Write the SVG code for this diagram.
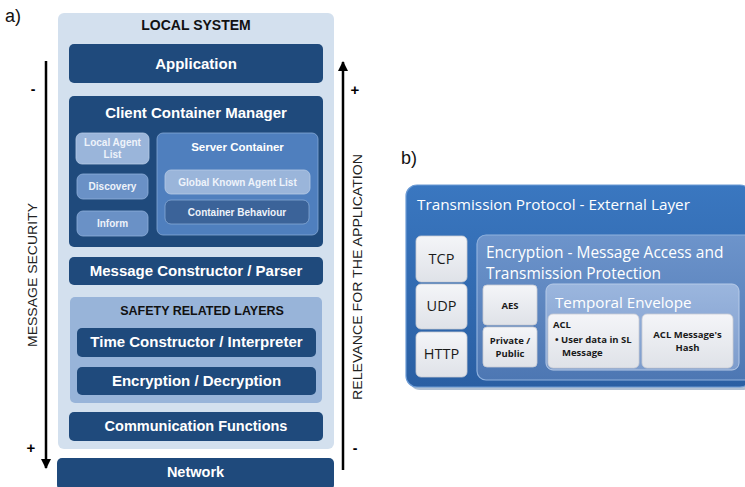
<svg xmlns="http://www.w3.org/2000/svg" width="745" height="487" viewBox="0 0 745 487">
<defs>
<style>
.dk{fill:#1f4a7c}
.wt{font-family:"Liberation Sans",Arial,sans-serif;font-weight:bold;fill:#ffffff;text-anchor:middle}
.lt{font-family:"Liberation Sans",Arial,sans-serif;font-weight:bold;fill:#eef3fa;text-anchor:middle;font-size:10px}
.lbl{font-family:"Liberation Sans",Arial,sans-serif;fill:#111}
.cb{font-family:"Open Sans","Liberation Sans",sans-serif;fill:#ffffff}
.cd{font-family:"Open Sans","Liberation Sans",sans-serif;fill:#1a1a1a}
.wbox{fill:url(#wg);stroke:#c9ccd3;stroke-width:0.8}
</style>
<linearGradient id="og" x1="0" y1="0" x2="0" y2="1"><stop offset="0" stop-color="#3a77c0"/><stop offset="1" stop-color="#2a5fa3"/></linearGradient>
<linearGradient id="eg" x1="0" y1="0" x2="0" y2="1"><stop offset="0" stop-color="#6d94cb"/><stop offset="1" stop-color="#4d77b3"/></linearGradient>
<linearGradient id="tg" x1="0" y1="0" x2="0" y2="1"><stop offset="0" stop-color="#9bb6de"/><stop offset="1" stop-color="#7d9ccc"/></linearGradient>
<linearGradient id="wg" x1="0" y1="0" x2="0" y2="1"><stop offset="0" stop-color="#f4f5f8"/><stop offset="1" stop-color="#dfe2e8"/></linearGradient>
<marker id="ah" viewBox="0 0 10 10" refX="9" refY="5" markerWidth="10" markerHeight="10" markerUnits="userSpaceOnUse" orient="auto"><path d="M0,0 L10,5 L0,10 Z" fill="#000"/></marker>
</defs>
<rect width="745" height="487" fill="#ffffff"/>

<text class="lbl" x="5" y="22" font-size="18">a)</text>
<text class="lbl" x="401" y="164" font-size="18">b)</text>

<!-- panel a -->
<g id="local-system">
<rect x="58" y="13" width="276" height="436" rx="6" fill="#d3e0ee"/>
<text x="196" y="30" font-family="'Liberation Sans',Arial,sans-serif" font-weight="bold" font-size="14" fill="#111" text-anchor="middle">LOCAL SYSTEM</text>
</g>
<g id="application">
<rect class="dk" x="69" y="44" width="254" height="39" rx="5"/>
<text class="wt" x="196" y="69" font-size="15">Application</text>
</g>
<g id="client-container-manager">
<rect class="dk" x="69" y="96" width="254" height="151" rx="5"/>
<text class="wt" x="196" y="118" font-size="15">Client Container Manager</text>
</g>
<g id="local-agent-list">
<rect x="76" y="133" width="73" height="31" rx="6" fill="#9ab5da" stroke="#b8cce6" stroke-width="0.8"/>
<text class="lt" x="112.5" y="146">Local Agent</text>
<text class="lt" x="112.5" y="158">List</text>
</g>
<g id="discovery">
<rect x="77" y="174" width="71" height="25" rx="6" fill="#6a91c6" stroke="#8fb0da" stroke-width="0.8"/>
<text class="lt" x="112.5" y="190">Discovery</text>
</g>
<g id="inform">
<rect x="77" y="211" width="71" height="25" rx="6" fill="#6a91c6" stroke="#8fb0da" stroke-width="0.8"/>
<text class="lt" x="112.5" y="227">Inform</text>
</g>
<g id="server-container">
<rect x="157" y="133" width="161" height="102" rx="6" fill="#4f7fbe" stroke="#87a9d6" stroke-width="0.8"/>
<text class="wt" x="237.5" y="151" font-size="11.5">Server Container</text>
</g>
<g id="global-known-agent-list">
<rect x="165" y="170" width="145" height="24" rx="6" fill="#9ab5da" stroke="#b8cce6" stroke-width="0.8"/>
<text class="lt" x="237.5" y="186">Global Known Agent List</text>
</g>
<g id="container-behaviour">
<rect x="165" y="200" width="144" height="24" rx="6" fill="#3b6399" stroke="#87a9d6" stroke-width="0.8"/>
<text class="lt" x="237" y="216">Container Behaviour</text>
</g>
<g id="message-constructor">
<rect class="dk" x="69" y="257" width="254" height="28" rx="5"/>
<text class="wt" x="196" y="276" font-size="15">Message Constructor / Parser</text>
</g>
<g id="safety-related-layers">
<rect x="70" y="297" width="252" height="106" rx="5" fill="#98b4d9"/>
<text x="202" y="315" font-family="'Liberation Sans',Arial,sans-serif" font-weight="bold" font-size="12.5" fill="#111" text-anchor="middle">SAFETY RELATED LAYERS</text>
</g>
<g id="time-constructor">
<rect class="dk" x="77" y="328" width="239" height="29" rx="5"/>
<text class="wt" x="196.5" y="347" font-size="15">Time Constructor / Interpreter</text>
</g>
<g id="encryption-decryption">
<rect class="dk" x="77" y="367" width="239" height="28" rx="5"/>
<text class="wt" x="196.5" y="386" font-size="15">Encryption / Decryption</text>
</g>
<g id="communication-functions">
<rect class="dk" x="69" y="412" width="254" height="29" rx="5"/>
<text class="wt" x="196" y="431" font-size="14.5">Communication Functions</text>
</g>
<g id="network">
<rect class="dk" x="57" y="458" width="277" height="32" rx="5"/>
<text class="wt" x="195.5" y="477" font-size="14.5">Network</text>
</g>

<g id="connectors">
<line x1="46" y1="61" x2="46" y2="468" stroke="#000" stroke-width="2.5" marker-end="url(#ah)"/>
<line x1="343" y1="470" x2="343" y2="62" stroke="#000" stroke-width="2.5" marker-end="url(#ah)"/>
</g>
<g id="axis-labels">
<text x="33" y="94" font-family="'Liberation Sans',Arial,sans-serif" font-weight="bold" font-size="14" text-anchor="middle">-</text>
<text x="31" y="453" font-family="'Liberation Sans',Arial,sans-serif" font-weight="bold" font-size="15" text-anchor="middle">+</text>
<text x="355" y="95" font-family="'Liberation Sans',Arial,sans-serif" font-weight="bold" font-size="15" text-anchor="middle">+</text>
<text x="355" y="453" font-family="'Liberation Sans',Arial,sans-serif" font-weight="bold" font-size="14" text-anchor="middle">-</text>
<text transform="translate(37,275) rotate(-90)" font-family="'Liberation Sans',Arial,sans-serif" font-size="12" fill="#222" text-anchor="middle" textLength="144" lengthAdjust="spacingAndGlyphs">MESSAGE SECURITY</text>
<text transform="translate(362,277) rotate(-90)" font-family="'Liberation Sans',Arial,sans-serif" font-size="12" fill="#222" text-anchor="middle" textLength="246" lengthAdjust="spacingAndGlyphs">RELEVANCE FOR THE APPLICATION</text>
</g>

<!-- panel b -->
<g id="transmission-protocol">
<rect x="409" y="188" width="345" height="202" rx="11" fill="#1d4a80" opacity="0.35"/>
<rect x="406" y="185" width="345" height="202" rx="11" fill="url(#og)" stroke="#6b9ad4" stroke-width="1.2"/>
<text class="cb" x="417" y="210" font-size="15.3">Transmission Protocol - External Layer</text>
</g>
<g id="tcp">
<rect class="wbox" x="416" y="236" width="51" height="46" rx="5"/>
<text class="cd" x="441.5" y="264" font-size="14.5" text-anchor="middle">TCP</text>
</g>
<g id="udp">
<rect class="wbox" x="416" y="284" width="51" height="45" rx="5"/>
<text class="cd" x="441.5" y="311" font-size="14.5" text-anchor="middle">UDP</text>
</g>
<g id="http">
<rect class="wbox" x="416" y="332" width="51" height="45" rx="5"/>
<text class="cd" x="441.5" y="359" font-size="14.5" text-anchor="middle">HTTP</text>
</g>
<g id="encryption">
<rect x="477" y="235" width="280" height="145" rx="9" fill="url(#eg)" stroke="#8fb1de" stroke-width="1.2"/>
<text class="cb" x="486" y="258" font-size="15.5">Encryption - Message Access and</text>
<text class="cb" x="486" y="279" font-size="15.5">Transmission Protection</text>
</g>
<g id="aes">
<rect class="wbox" x="483" y="285" width="54" height="40" rx="4"/>
<text class="cd" x="510" y="309" font-size="9.5" font-weight="bold" text-anchor="middle">AES</text>
</g>
<g id="private-public">
<rect class="wbox" x="483" y="327" width="54" height="40" rx="4"/>
<text class="cd" x="510" y="344" font-size="9.5" font-weight="bold" text-anchor="middle">Private /</text>
<text class="cd" x="510" y="357" font-size="9.5" font-weight="bold" text-anchor="middle">Public</text>
</g>
<g id="temporal-envelope">
<rect x="546" y="284" width="193" height="86" rx="7" fill="url(#tg)" stroke="#b7cbe8" stroke-width="1"/>
<text class="cb" x="555" y="308" font-size="15.2">Temporal Envelope</text>
</g>
<g id="acl">
<rect class="wbox" x="548" y="314" width="91" height="54" rx="5"/>
<text class="cd" x="553" y="328" font-size="9.5" font-weight="bold">ACL</text>
<text class="cd" x="555" y="343" font-size="9.5" font-weight="bold">• User data in SL</text>
<text class="cd" x="562" y="356" font-size="9.5" font-weight="bold">Message</text>
</g>
<g id="acl-hash">
<rect class="wbox" x="642" y="314" width="91" height="54" rx="5"/>
<text class="cd" x="687.5" y="338" font-size="9.5" font-weight="bold" text-anchor="middle">ACL Message's</text>
<text class="cd" x="687.5" y="351" font-size="9.5" font-weight="bold" text-anchor="middle">Hash</text>
</g>
</svg>
